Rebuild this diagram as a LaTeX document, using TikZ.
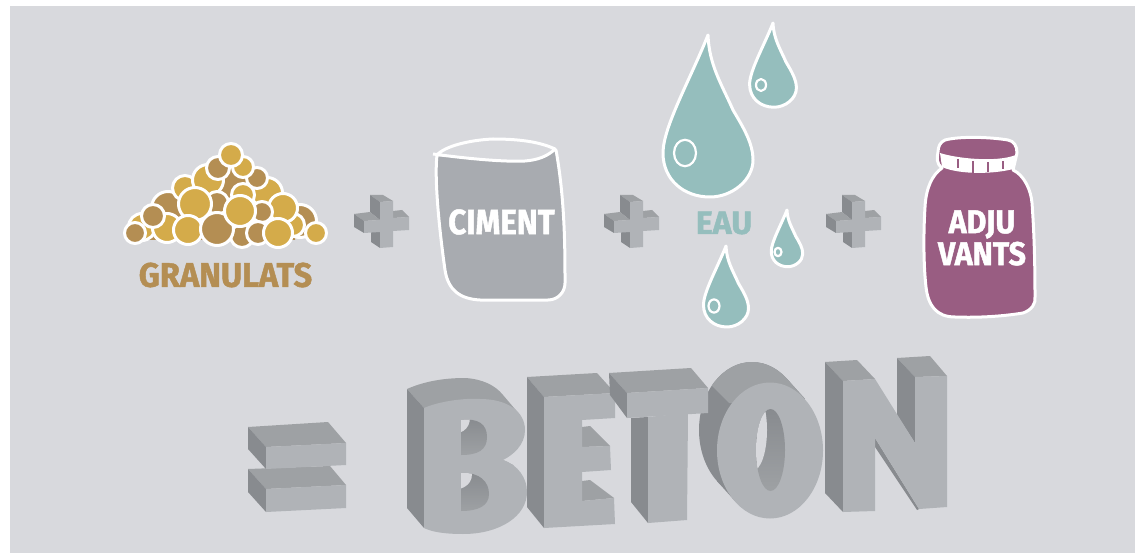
\documentclass[tikz,border=0pt]{standalone}
\usepackage{fontspec}
\setmainfont[BoldFeatures={FakeBold=1.4}]{Fira Sans}
\usetikzlibrary{positioning}
\definecolor{page}{RGB}{216,217,221}
\definecolor{gold}{RGB}{212,171,74}
\definecolor{ochre}{RGB}{180,142,83}
\definecolor{sack}{RGB}{168,171,176}
\definecolor{water}{RGB}{149,190,189}
\definecolor{plum}{RGB}{153,93,130}
\definecolor{frontgrey}{RGB}{176,179,183}
\definecolor{topgrey}{RGB}{158,161,164}
\definecolor{sidegrey}{RGB}{136,139,143}
\tikzstyle{outline} = [draw=white, line width=3pt, line join=round]
\tikzstyle{word} = [inner sep=0pt, text=white, transform shape]
\tikzstyle{frontface} = [fill=frontgrey]
\tikzstyle{topface} = [fill=topgrey]
\tikzstyle{sideface} = [fill=sidegrey]
\tikzstyle{inside} = [top color=sidegrey, bottom color=topgrey]
\newcommand{\stone}[4]{\draw[outline, fill=#4] (#1,#2) circle (#3+1.5);}
\newcommand{\drop}[5]{\begin{scope}[shift={(#1,#2)}, scale=#3]
	\draw[outline, fill=water] (0,0) .. controls (1,30) and (14,50) .. (25,75) .. controls (35,92) and (45,108) .. (45,125) .. controls (45,145) and (24,162) .. (2,162) .. controls (-24,162) and (-45,145) .. (-45,118) .. controls (-45,92) and (-18,45) .. cycle;
	\end{scope}
	\draw[outline, line width=2.2pt] (#4) ellipse (#5 and #5*1.2);}
\newcommand{\plusblock}[2]{\begin{scope}[shift={(#1,#2)}]
	\fill[topface] (-11,-26) -- (2,-26) -- (12,-20) -- (-1,-19) -- cycle;
	\fill[sideface] (-11,-26) -- (-1,-19) -- (-1,-1) -- (-11,-9) -- cycle;
	\fill[topface] (-27,-7) -- (-11,-9) -- (-1,-1) -- (-17,0) -- cycle;
	\fill[sideface] (-27,-7) -- (-27,6) -- (-17,12) -- (-17,0) -- cycle;
	\fill[topface] (12,-10) -- (21,-11) -- (28,-4) -- (12,-3) -- cycle;
	\fill[sideface] (-10,11) -- (-10,21) -- (-1,27) -- (-1,11) -- cycle;
	\fill[frontface] (-1,-19) -- (12,-20) -- (12,-3) -- (28,-4) -- (28,9) -- (12,10) -- (12,26) -- (-1,27) -- (-1,11) -- (-17,12) -- (-17,0) -- (-1,-1) -- cycle;
	\end{scope}}
\newcommand{\holeup}{(461,420) .. controls (478,418) and (487,424) .. (487,437) .. controls (487,450) and (478,455) .. (461,455) -- cycle}
\newcommand{\holedown}{(461,473) .. controls (480,472) and (489,482) .. (489,494) .. controls (489,506) and (478,511) .. (461,511) -- cycle}
\newcommand{\holeo}{(770.5,450) ellipse (14.5 and 41)}
\newcommand{\hole}[2]{\shade[inside] #1;
	\begin{scope}
		\clip #1;
		\fill[page, shift={#2}] #1;
	\end{scope}}
\begin{document}
\begin{tikzpicture}[x=1pt, y=-1pt]
	\useasboundingbox (0,0) rectangle (1140,553);
	\fill[white] (0,0) rectangle (1140,553);
	\fill[page] (10,6) rectangle (1135,553);

	\fill[ochre] (231,165) -- (296,225) -- (295,240) -- (145,240) -- (170,205) -- cycle;
	\stone{300}{221}{15}{ochre}
	\stone{168}{208}{15}{ochre}
	\stone{185}{188}{11}{gold}
	\stone{267}{193}{14}{gold}
	\stone{208}{180}{14}{gold}
	\stone{243}{195}{10}{gold}
	\stone{142}{227}{12}{gold}
	\stone{167}{228}{13}{gold}
	\stone{293}{225}{10}{gold}
	\stone{283}{208}{13}{gold}
	\stone{257}{178}{9}{ochre}
	\stone{243}{167}{9}{gold}
	\stone{218}{168}{10}{ochre}
	\stone{217}{203}{10}{ochre}
	\stone{262}{212}{9}{ochre}
	\stone{242}{236}{10}{ochre}
	\stone{258}{233}{10}{ochre}
	\stone{195}{204}{15}{gold}
	\stone{153}{216}{10}{ochre}
	\stone{188}{230}{13}{gold}
	\stone{217}{229}{15}{ochre}
	\stone{240}{211}{14}{gold}
	\stone{278}{233}{13}{gold}
	\stone{135}{233}{9}{ochre}
	\stone{316}{233}{9}{gold}
	\stone{231}{155}{10}{gold}
	\node[word, text=ochre, font=\bfseries\fontsize{34}{34}\selectfont, xscale=.96] (granulats) at (225.5,275) {GRANULATS};

	\plusblock{381}{221}
	\draw[outline, fill=sack] (437,155) .. controls (434,180) and (440,235) .. (445,270) .. controls (448,290) and (460,299) .. (480,300) -- (548,300) .. controls (558,300) and (565,292) .. (565,283) .. controls (565,250) and (565,200) .. (556,150) -- cycle;
	\draw[outline, fill=page] (433,154) .. controls (470,159) and (505,162) .. (525,161) .. controls (538,160) and (548,156) .. (555,149) .. controls (540,142) and (520,139) .. (493,139) .. controls (470,140) and (445,146) .. (437,155);
	\node[word, font=\bfseries\fontsize{35}{35}\selectfont, xscale=.9] (ciment) at (501.5,222) {CIMENT};

	\plusblock{631}{221}
	\drop{708}{35}{1}{685,153}{11}
	\drop{773}{23}{.52}{761,85}{5}
	\drop{787}{210}{.35}{778,252}{3.5}
	\drop{726}{246}{.5}{714,306}{5.5}
	\node[word, text=water, font=\bfseries\fontsize{32}{32}\selectfont] (eau) at (724,223) {EAU};

	\plusblock{853}{221}
	\draw[outline, fill=plum] (938,152) .. controls (937,158) and (936,163) .. (942,168) .. controls (932,175) and (926,188) .. (925,207) .. controls (923,240) and (924,270) .. (926,287) .. controls (928,305) and (936,317) .. (955,317) .. controls (980,318) and (1005,316) .. (1023,313) .. controls (1032,310) and (1036,303) .. (1035,297) .. controls (1035,260) and (1034,230) .. (1032,203) .. controls (1031,190) and (1024,175) .. (1013,170) -- (1017,153) .. controls (1017,146) and (1014,141) .. (1008,140) .. controls (990,137) and (960,136) .. (945,140) .. controls (940,142) and (938,147) .. (938,152) -- cycle;
	\fill[white] (940,153) .. controls (955,158) and (995,163) .. (1016,155) -- (1013,169) .. controls (995,174) and (960,175) .. (942,167) -- cycle;
	\foreach \tickx/\ticktop/\tickend in {958/159/168, 973/161/173, 988/162/172, 1003/161/169}
		\draw[plum, line width=2pt] (\tickx,\ticktop) -- (\tickx,\tickend);
	\node[word, align=center, font=\bfseries\fontsize{33}{32}\selectfont, xscale=.92] (adjuvants) at (982,238) {ADJU\\VANTS};

	\fill[topface] (248,469) -- (330,466) -- (346,485) -- (266,489) -- cycle;
	\fill[sideface] (248,469) -- (266,489) -- (266,512) -- (248,492) -- cycle;
	\fill[frontface] (266,489) -- (346,485) -- (346,508) -- (266,512) -- cycle;
	\fill[topface] (248,427) -- (328,422) -- (346,443) -- (266,447) -- cycle;
	\fill[sideface] (248,427) -- (266,447) -- (266,469) -- (248,449) -- cycle;
	\fill[frontface] (266,447) -- (346,443) -- (346,465) -- (266,469) -- cycle;

	\fill[topface] (407,389) .. controls (425,381) and (445,378) .. (465,378) .. controls (482,379) and (495,385) .. (503,395) -- (520,415) -- (480,405) -- (424,408) -- cycle;
	\fill[sideface] (407,389) -- (424,408) -- (424,528) -- (407,508) -- cycle;
	\fill[topface] (503,460) -- (513,465) -- (526,484) -- (515,478) -- cycle;
	\fill[frontface] (424,408) .. controls (440,401) and (465,398) .. (480,399) .. controls (508,399) and (525,412) .. (525,430) .. controls (525,445) and (513,455) .. (503,460) .. controls (518,465) and (527,478) .. (527,492) .. controls (527,516) and (500,534) .. (463,534) .. controls (445,534) and (432,532) .. (424,528) -- cycle;
	\hole{\holeup}{(-17,-20)}
	\hole{\holedown}{(-17,-20)}

	\fill[topface] (527,377) -- (597,373) -- (615,393) -- (544,397) -- cycle;
	\fill[sideface] (527,377) -- (544,397) -- (544,528) -- (527,507) -- cycle;
	\fill[topface] (582,427) -- (590,426) -- (610,446) -- (582,447) -- cycle;
	\fill[topface] (582,481) -- (590,480) -- (614,498) -- (582,501) -- cycle;
	\fill[frontface] (544,397) -- (615,393) -- (615,418) -- (582,420) -- (582,447) -- (610,446) -- (611,470) -- (582,472) -- (582,501) -- (614,498) -- (615,524) -- (544,528) -- cycle;

	\fill[sideface] (752,430) ellipse (53 and 68);
	\fill[sideface] (786.8,378.7) -- (804.8,398.7) -- (735.2,501.3) -- (717.2,481.3) -- cycle;
	\begin{scope}
		\clip (709,383) -- (729,403) -- (840,403) -- (840,350) -- (700,350) -- cycle;
		\fill[topface] (752,430) ellipse (53 and 68);
		\fill[topface] (786.8,378.7) -- (804.8,398.7) -- (735.2,501.3) -- (717.2,481.3) -- cycle;
	\end{scope}
	\fill[frontface] (770,450.5) ellipse (53 and 68);
	\hole{\holeo}{(-18,-20)}

	\fill[sideface] (631,418) -- (648,417) -- (648,523) -- (631,502) -- cycle;
	\fill[frontface] (648,417) -- (688,413) -- (687,520) -- (648,523) -- cycle;
	\fill[topface] (609,373) -- (691,368) -- (708,388) -- (627,393) -- cycle;
	\fill[sideface] (609,373) -- (627,393) -- (627,418) -- (610,395) -- cycle;
	\fill[frontface] (627,393) -- (708,388) -- (708,413) -- (627,418) -- cycle;

	\fill[topface] (825,362) -- (857,360) -- (875,379) -- (843,381) -- cycle;
	\fill[sideface] (825,362) -- (843,381) -- (843,512) -- (825,493) -- cycle;
	\fill[topface] (897,358) -- (930,356) -- (947,376) -- (915,377) -- cycle;
	\fill[sideface] (897,358) -- (915,377) -- (915,443) -- (897,415) -- cycle;
	\fill[sideface] (875,438) -- (875,447) -- (917,510) -- (919,509) -- cycle;
	\fill[frontface] (843,381) -- (875,379) -- (915,443) -- (915,377) -- (947,376) -- (947,507) -- (919,509) -- (875,438) -- (875,511) -- (843,512) -- cycle;
\end{tikzpicture}
\end{document}
